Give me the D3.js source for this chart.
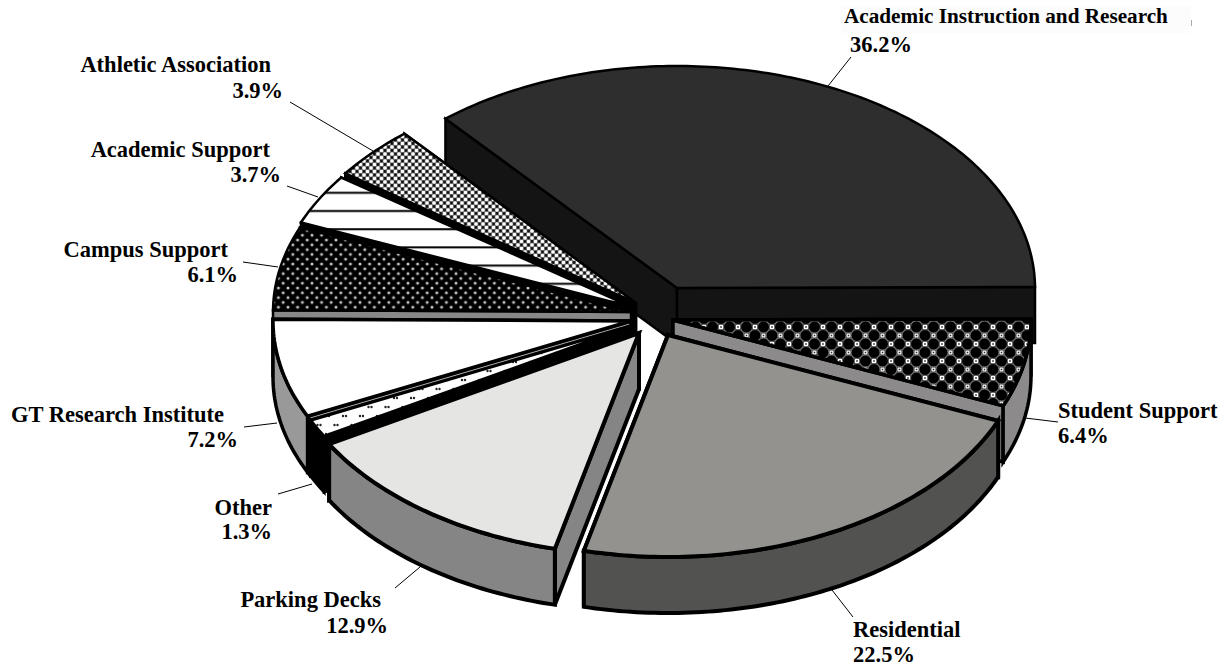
<!DOCTYPE html>
<html>
<head>
<meta charset="utf-8">
<script src="https://cdn.jsdelivr.net/npm/d3@7"></script>
<style>
  html, body { margin: 0; padding: 0; background: #fff; }
  text { font-family: "Liberation Serif", serif; font-weight: bold; font-size: 22.5px; fill: #000; }
</style>
</head>
<body>
<script>

// Data, clockwise from the Academic Instruction slice
var categories = ["Academic Instruction and Research", "Student Support", "Residential", "Parking Decks", "Other", "GT Research Institute", "Campus Support", "Academic Support", "Athletic Association"];
var shares = [36.2, 6.4, 22.5, 12.9, 1.3, 7.2, 6.1, 3.7, 3.9];

// Layout of the exploded pie: where each slice's point sits on the page
var apexX = [677, 673, 668, 639, 634, 631, 631, 632, 636];
var apexY = [288, 320, 335, 333, 325, 321, 312, 307, 303];
var topFills = ["#2e2e2e", "url(#pat-student)", "#94928f", "#e5e5e4", "url(#pat-other)", "#ffffff", "url(#pat-campus)", "url(#pat-support)", "url(#pat-athletic)"];
var wallFills = ["#141414", "#8c8a8a", "#525250", "#858585", "#000000", "#999999", "#888888", "#000000", "#000000"];
var strokeWidths = [2.5, 3.5, 4, 4, 3, 3.5, 2.5, 2.5, 2.5];

// Painter's order, back to front
var drawOrder = [0, 8, 7, 6, 5, 4, 3, 1, 2];

// Label placement
var nameX = [844, 1058, 853, 381, 272, 224, 228, 270, 271];
var nameY = [23, 418, 637, 607, 515, 422, 257, 157, 72];
var valueX = [850, 1058, 853, 388, 272, 238, 238, 281, 283];
var valueY = [52, 443, 662, 633, 539, 447, 282, 182, 98];
var anchors = ["start", "start", "start", "end", "end", "end", "end", "end", "end"];
var leaderFrom = [[851, 57], [1058, 422], [853, 617], [395, 588], [278, 494], [244, 427], [243, 262], [287, 186], [290, 102]];
var leaderTo = [[828, 86], [1025, 418], [832, 590], [420, 567], [312, 484], [277, 423], [278, 267], [318, 197], [373, 151]];

var width = 1226,
    height = 669,
    depth = 56,
    startAngle = -130.3 * Math.PI / 180 + Math.PI / 2;

var radiusX = d3.scaleLinear().domain([-1, 1]).range([-358, 358]),
    radiusY = d3.scaleLinear().domain([-1, 1]).range([-222, 222]);

var pie = d3.pie().sort(null).startAngle(startAngle).endAngle(startAngle + 2 * Math.PI);
var slices = pie(shares);

var svg = d3.select("body").append("svg")
    .attr("width", width)
    .attr("height", height)
    .style("display", "block");

var defs = svg.append("defs");

function pattern(id, w, h, dx, dy) {
    return defs.append("pattern")
        .attr("id", id)
        .attr("patternUnits", "userSpaceOnUse")
        .attr("patternTransform", "translate(" + (dx || 0) + "," + (dy || 0) + ")")
        .attr("width", w)
        .attr("height", h);
}

// Student Support: black blobs with little white squares between them
var ps = pattern("pat-student", 17, 17, 7, 4);
ps.append("rect").attr("width", 17).attr("height", 17).attr("fill", "#000");
[[8.5, 0], [0, 8.5], [17, 8.5], [8.5, 17]].forEach(function (c) {
    ps.append("circle").attr("cx", c[0]).attr("cy", c[1]).attr("r", 6).attr("fill", "#000").attr("stroke", "#999").attr("stroke-width", 0.8);
});
[[0, 0], [17, 0], [0, 17], [17, 17], [8.5, 8.5]].forEach(function (c) {
    ps.append("rect").attr("x", c[0] - 2).attr("y", c[1] - 2).attr("width", 4).attr("height", 4).attr("fill", "#fff");
    ps.append("rect").attr("x", c[0] - 0.8).attr("y", c[1] - 0.8).attr("width", 1.6).attr("height", 1.6).attr("fill", "#333");
});

// Campus Support: pale dots on black
var pc = pattern("pat-campus", 9.6, 9.6);
pc.append("rect").attr("width", 9.6).attr("height", 9.6).attr("fill", "#000");
[[0, 0], [9.6, 0], [0, 9.6], [9.6, 9.6], [4.8, 4.8]].forEach(function (c) {
    pc.append("circle").attr("cx", c[0]).attr("cy", c[1]).attr("r", 1.5).attr("fill", "#c8c8c8");
});

// Athletic Association: fine white stars on a grey check
var pa = pattern("pat-athletic", 7, 7);
pa.append("rect").attr("width", 7).attr("height", 7).attr("fill", "#777");
[[0, 0], [7, 0], [0, 7], [7, 7], [3.5, 3.5]].forEach(function (c) {
    pa.append("circle").attr("cx", c[0]).attr("cy", c[1]).attr("r", 1.8).attr("fill", "#fff");
});
[[3.5, 0], [0, 3.5], [7, 3.5], [3.5, 7]].forEach(function (c) {
    pa.append("circle").attr("cx", c[0]).attr("cy", c[1]).attr("r", 1.4).attr("fill", "#111");
});

// Academic Support: horizontal rules
var pu = pattern("pat-support", 18.2, 18.2);
pu.append("rect").attr("width", 18.2).attr("height", 18.2).attr("fill", "#fff");
pu.append("rect").attr("y", 9.8).attr("width", 18.2).attr("height", 2).attr("fill", "#000");

// Other: sparse pairs of dots on white
var po = pattern("pat-other", 17, 18);
po.append("rect").attr("width", 17).attr("height", 18).attr("fill", "#fff");
[[3, 2], [6, 2], [11.5, 11], [14.5, 11]].forEach(function (c) {
    po.append("circle").attr("cx", c[0]).attr("cy", c[1]).attr("r", 1.2).attr("fill", "#222");
});

// Rim point of slice i at pie angle a, dropped by z
function rim(i, a, z) {
    return [apexX[i] + radiusX(Math.sin(a)), apexY[i] + radiusY(-Math.cos(a)) + z];
}

function arcPoints(i, a0, a1, z) {
    var n = Math.max(2, Math.ceil((a1 - a0) * 60));
    return d3.range(n + 1).map(function (k) {
        return rim(i, a0 + (a1 - a0) * k / n, z);
    });
}

var line = d3.line();

function drawPoly(g, points, fill, sw) {
    g.append("path")
        .attr("d", line(points) + "Z")
        .attr("fill", fill)
        .attr("stroke", "#000")
        .attr("stroke-width", sw)
        .attr("stroke-linejoin", "miter");
}

// Faint box left behind the top label in the original
svg.append("rect").attr("x", 841).attr("y", 6).attr("width", 350).attr("height", 27).attr("fill", "#fcfcfc");
svg.append("line").attr("x1", 1191.5).attr("x2", 1191.5).attr("y1", 20).attr("y2", 26).attr("stroke", "#aaa");

var leaders = svg.append("g");
categories.forEach(function (c, i) {
    leaders.append("line")
        .attr("x1", leaderFrom[i][0]).attr("y1", leaderFrom[i][1])
        .attr("x2", leaderTo[i][0]).attr("y2", leaderTo[i][1])
        .attr("stroke", "#000")
        .attr("stroke-width", 1);
});

var pieG = svg.append("g");
drawOrder.forEach(function (i) {
    var d = slices[i],
        g = pieG.append("g").attr("class", "slice"),
        apexTop = [apexX[i], apexY[i]],
        apexBottom = [apexX[i], apexY[i] + depth],
        sw = strokeWidths[i];

    // cut faces, the one further back first
    [d.startAngle, d.endAngle]
        .sort(function (a, b) { return rim(i, a, 0)[1] - rim(i, b, 0)[1]; })
        .forEach(function (a) {
            drawPoly(g, [apexTop, rim(i, a, 0), rim(i, a, depth), apexBottom], wallFills[i], sw);
        });

    // outer face, only the part that bends towards the viewer
    var lo = Math.max(d.startAngle, Math.PI / 2),
        hi = Math.min(d.endAngle, 3 * Math.PI / 2);
    if (hi > lo) {
        drawPoly(g, arcPoints(i, lo, hi, 0).concat(arcPoints(i, lo, hi, depth).reverse()), wallFills[i], sw);
    }

    // top face
    drawPoly(g, [apexTop].concat(arcPoints(i, d.startAngle, d.endAngle, 0)), topFills[i], sw);
});

var labels = svg.append("g");
categories.forEach(function (c, i) {
    labels.append("text")
        .attr("x", nameX[i]).attr("y", nameY[i])
        .attr("text-anchor", anchors[i])
        // the top label is set a little tighter in the original
        .style("font-size", i === 0 ? "21.2px" : null)
        .text(c);
    labels.append("text")
        .attr("x", valueX[i]).attr("y", valueY[i])
        .attr("text-anchor", anchors[i])
        .text(d3.format(".1f")(shares[i]) + "%");
});

</script>
</body>
</html>
